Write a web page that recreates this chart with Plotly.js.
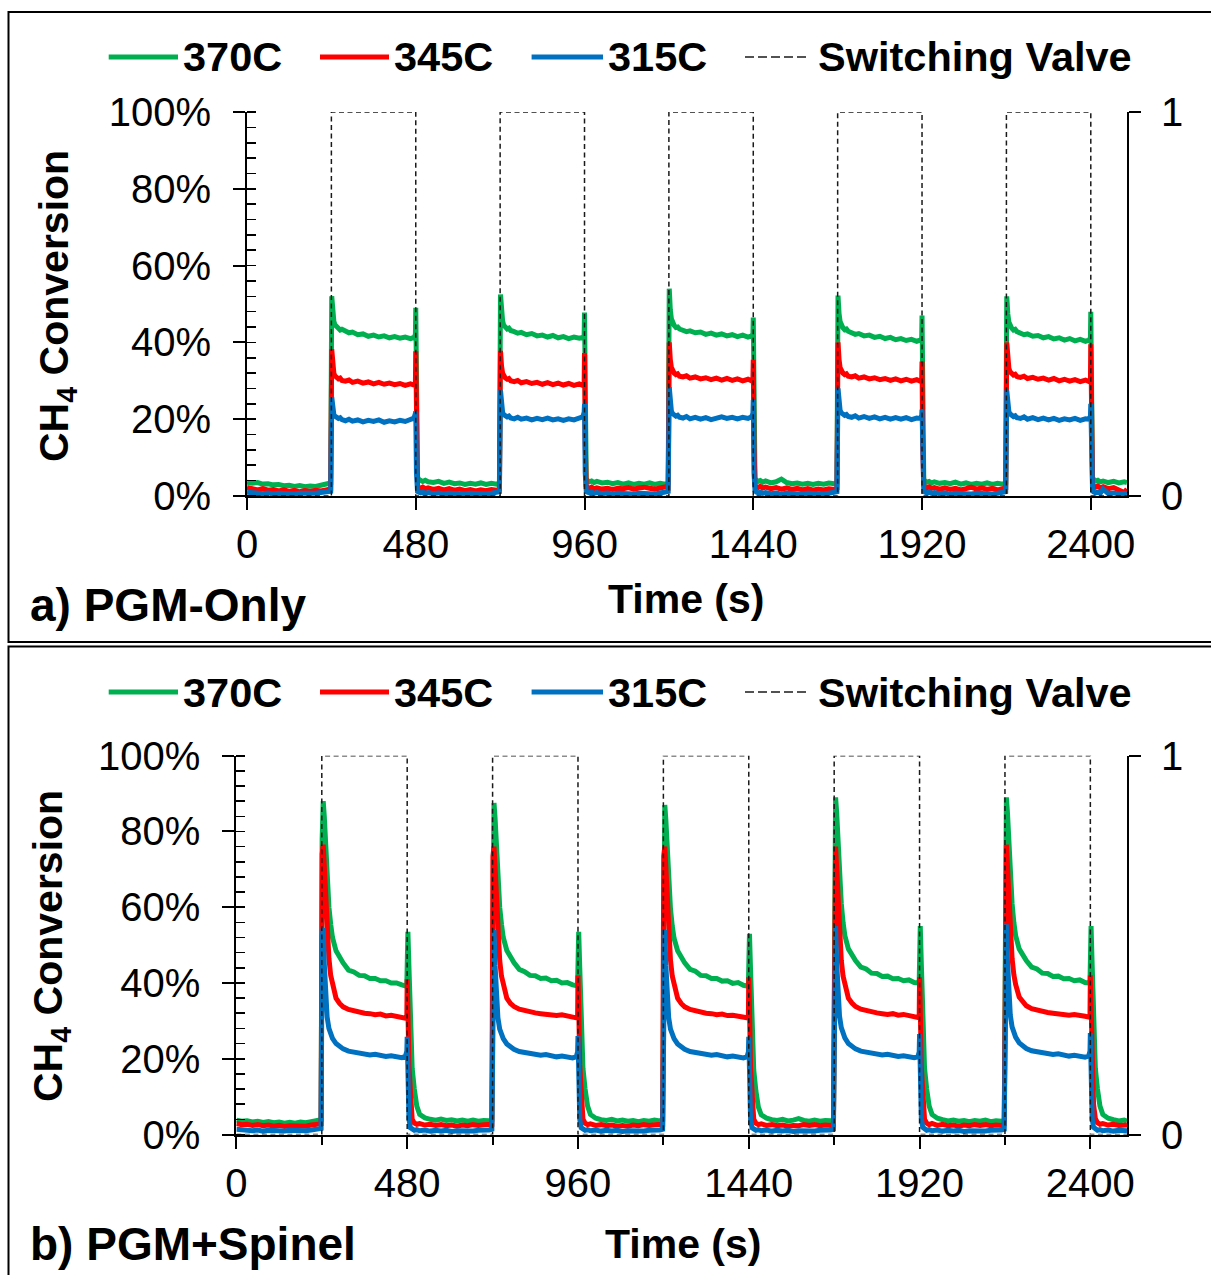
<!DOCTYPE html>
<html>
<head>
<meta charset="utf-8">
<script src="https://cdn.plot.ly/plotly-3.0.1.min.js"></script>
<style>html,body{margin:0;padding:0;background:#fff;}#chart{width:1211px;height:1275px;}</style>
</head>
<body>
<div id="chart"></div>
<script>
// ---------------- DATA ----------------
const seriesNames = ['370C', '345C', '315C', 'Switching Valve'];
const seriesColors = ['#00B050', '#FF0000', '#0070C0', '#000000'];

const xTickVals = [0, 480, 960, 1440, 1920, 2400];
const yTickVals = [0, 20, 40, 60, 80, 100];
const yTickText = ['0%', '20%', '40%', '60%', '80%', '100%'];
const y2TickVals = [0, 1];
const y2TickText = ['0', '1'];

// sample times (s), shared by all six conversion series
const time = [
  0,15,30,45,60,75,90,105,120,135,150,165,180,195,210,225,238,
  241,244,247,250,255,260,265,270,280,290,300,315,330,345,360,375,390,405,420,435,450,465,475,479,
  480,482,485,489,494,500,507,515,530,545,560,575,590,605,620,635,650,665,680,695,710,718,
  721,724,727,730,735,740,745,750,760,770,780,795,810,825,840,855,870,885,900,915,930,945,955,959,
  960,962,965,969,974,980,987,995,1010,1025,1040,1055,1070,1085,1100,1115,1130,1145,1160,1175,1190,1198,
  1201,1204,1207,1210,1215,1220,1225,1230,1240,1250,1260,1275,1290,1305,1320,1335,1350,1365,1380,1395,1410,1425,1435,1439,
  1440,1442,1445,1449,1454,1460,1467,1475,1490,1505,1520,1535,1550,1565,1580,1595,1610,1625,1640,1655,1670,1678,
  1681,1684,1687,1690,1695,1700,1705,1710,1720,1730,1740,1755,1770,1785,1800,1815,1830,1845,1860,1875,1890,1905,1915,1919,
  1920,1922,1925,1929,1934,1940,1947,1955,1970,1985,2000,2015,2030,2045,2060,2075,2090,2105,2120,2135,2150,2158,
  2161,2164,2167,2170,2175,2180,2185,2190,2200,2210,2220,2235,2250,2265,2280,2295,2310,2325,2340,2355,2370,2385,2395,2399,
  2400,2402,2405,2409,2414,2420,2427,2435,2450,2465,2480,2495,2503
];

// a) PGM-Only, CH4 conversion (%)
const a370 = [
  3.6,3.3,3.5,3.1,3.2,2.9,3.0,2.7,2.8,2.5,2.7,2.4,2.6,2.5,2.8,3.2,3.4,
  52.0,47.5,45.5,44.6,44.0,43.6,43.2,43.4,42.8,42.5,42.7,42.0,42.2,41.6,41.9,41.4,41.7,41.2,41.5,41.1,41.4,41.0,41.3,42.0,
  49.0,20.0,5.0,4.3,4.0,3.8,4.1,3.7,3.5,3.8,3.3,3.6,3.2,3.4,3.0,3.3,3.1,3.4,3.0,3.3,3.1,3.4,
  52.5,47.8,45.6,44.5,44.1,43.5,43.7,43.1,42.8,42.4,42.6,42.0,42.3,41.7,41.9,41.4,41.8,41.2,41.5,41.0,41.4,41.1,41.3,41.8,
  47.8,18.0,4.5,4.0,3.7,3.9,3.5,3.8,3.4,3.6,3.2,3.5,3.1,3.4,3.0,3.3,3.1,3.4,3.0,3.3,3.1,3.4,
  54.0,48.5,46.2,45.0,44.4,43.9,44.0,43.5,43.2,42.8,43.0,42.5,42.7,42.1,42.4,41.9,42.2,41.7,42.0,41.5,41.9,41.4,41.7,42.2,
  46.5,17.0,4.6,4.1,3.8,4.0,3.6,3.9,3.4,3.7,4.4,3.5,3.2,3.4,3.1,3.3,3.0,3.3,3.1,3.4,3.2,3.5,
  52.2,47.5,45.4,44.4,43.8,43.3,43.5,42.9,42.6,42.1,42.3,41.7,41.9,41.3,41.6,41.0,41.3,40.7,41.0,40.5,40.8,40.3,40.6,41.0,
  47.0,18.0,4.3,3.9,3.6,3.8,3.4,3.7,3.3,3.5,3.2,3.6,3.1,3.4,3.0,3.3,3.1,3.4,3.0,3.3,3.1,3.4,
  52.0,47.4,45.3,44.3,43.7,43.2,43.4,42.8,42.5,42.0,42.2,41.6,41.8,41.2,41.5,40.9,41.2,40.6,41.0,40.4,40.8,40.3,40.6,41.2,
  48.0,18.0,4.8,4.2,3.9,4.1,3.7,3.9,3.5,3.8,3.4,3.7,3.5
];
const a345 = [
  2.2,1.8,1.6,1.9,1.5,1.7,1.3,1.6,1.2,1.5,1.1,1.4,1.2,1.5,1.3,1.6,1.8,
  38.2,34.0,32.0,31.3,30.8,30.5,30.7,30.1,29.9,30.2,29.6,29.9,29.4,29.7,29.2,29.6,29.1,29.4,29.0,29.3,28.8,29.2,28.9,29.5,
  37.7,14.0,2.6,2.2,2.0,2.3,1.9,2.1,1.7,2.0,1.6,1.9,1.5,1.8,1.4,1.7,1.3,1.6,1.4,1.7,1.5,1.8,
  37.8,33.8,32.0,31.2,30.7,30.4,30.6,30.0,29.8,30.1,29.5,29.8,29.3,29.6,29.1,29.5,29.0,29.4,28.9,29.3,28.8,29.2,28.8,29.4,
  37.2,14.0,2.6,2.2,2.0,2.3,1.9,2.1,1.8,2.0,1.7,2.0,1.9,2.2,1.8,2.1,2.3,2.0,1.8,2.1,2.4,2.2,
  40.0,35.5,33.5,32.6,32.0,31.6,31.8,31.2,31.0,31.3,30.7,31.0,30.5,30.8,30.3,30.7,30.2,30.6,30.1,30.5,30.0,30.4,30.0,30.6,
  35.5,13.0,2.8,2.4,2.2,2.5,2.1,2.3,1.9,2.2,1.8,2.1,1.7,2.0,1.6,1.9,1.5,1.8,1.6,1.9,1.7,2.0,
  40.0,35.5,33.4,32.5,32.0,31.6,31.8,31.2,31.0,31.3,30.7,31.0,30.5,30.8,30.3,30.6,30.1,30.5,30.0,30.4,29.9,30.3,29.9,30.4,
  35.0,13.0,2.7,2.3,2.1,2.4,2.0,2.2,1.8,2.1,1.7,2.0,1.6,1.9,2.3,1.8,2.1,1.7,2.0,1.6,1.9,2.1,
  40.0,35.4,33.3,32.4,31.9,31.5,31.7,31.1,30.9,31.2,30.6,30.9,30.4,30.7,30.2,30.6,30.0,30.4,29.9,30.3,29.8,30.2,29.8,30.4,
  39.5,15.0,3.0,2.6,2.3,2.6,2.1,2.4,1.9,2.2,1.5,0.9,1.8
];
const a315 = [
  1.0,0.8,0.9,0.6,0.8,0.5,0.7,0.6,0.8,0.5,0.7,0.6,0.8,0.7,0.9,1.0,1.2,
  25.8,22.5,21.2,20.8,20.5,20.2,20.4,19.9,19.6,20.0,19.5,19.8,19.3,19.7,19.4,19.8,19.2,19.6,19.3,19.7,19.4,19.8,20.3,21.5,
  22.0,6.0,1.2,1.0,0.8,1.0,0.7,0.9,0.6,0.8,0.5,0.7,0.6,0.8,0.5,0.7,0.6,0.8,0.5,0.7,0.9,1.1,
  27.5,23.5,21.8,21.2,20.9,20.6,20.8,20.3,20.1,20.5,20.0,20.3,19.8,20.2,19.9,20.3,19.8,20.1,19.7,20.1,19.8,20.2,20.6,21.8,
  24.0,6.0,1.2,1.0,0.8,1.0,0.7,0.9,0.6,0.8,0.5,0.7,0.6,0.8,0.5,0.7,0.6,0.8,0.5,0.8,1.0,1.2,
  28.3,24.0,22.2,21.5,21.1,20.8,21.0,20.5,20.3,20.7,20.1,20.5,20.0,20.4,19.9,20.3,20.6,20.2,20.5,20.1,20.5,20.2,20.6,21.5,
  25.0,6.0,1.3,1.0,0.8,1.0,0.7,0.9,0.6,0.8,0.5,0.7,0.6,0.8,0.5,0.7,0.6,0.8,0.5,0.7,0.9,1.1,
  28.0,24.0,22.3,21.7,21.3,21.0,21.2,20.7,20.5,20.9,20.3,20.7,20.2,20.6,20.1,20.5,20.0,20.4,20.0,20.4,19.9,20.3,20.2,20.8,
  22.5,6.0,1.2,1.0,0.8,1.0,0.7,0.9,0.6,0.8,0.5,0.7,0.6,0.8,0.5,0.7,0.6,0.8,0.5,0.7,0.9,1.1,
  27.5,23.6,22.0,21.4,21.0,20.7,20.9,20.4,20.2,20.6,20.0,20.4,19.9,20.3,19.8,20.2,19.7,20.1,19.8,20.2,19.7,20.1,20.0,20.8,
  24.0,6.0,1.3,1.0,0.8,1.0,0.7,1.8,0.6,0.8,0.5,0.7,0.6
];

// b) PGM+Spinel, CH4 conversion (%)
const b370 = [
  3.8,3.5,3.6,3.3,3.5,3.2,3.4,3.1,3.3,3.0,3.2,3.0,3.3,3.1,3.4,3.6,3.9,
  78.0,88.0,84.0,78.0,68.0,60.0,55.5,52.0,48.5,46.6,45.3,43.4,42.9,42.0,41.9,41.2,41.2,40.6,40.6,40.0,40.0,39.5,39.2,39.6,
  50.0,53.5,44.0,27.0,17.5,12.0,7.5,5.3,4.4,4.0,3.8,4.1,3.7,3.9,3.6,3.8,3.5,3.8,3.5,3.7,3.6,3.9,
  78.0,87.5,83.5,77.5,67.5,60.0,55.5,52.0,48.6,46.7,45.4,43.6,43.0,42.0,41.9,41.2,41.3,40.6,40.7,40.0,40.1,39.5,39.3,39.7,
  50.0,53.5,44.0,27.0,17.5,12.0,7.5,5.3,4.3,3.9,3.7,4.0,3.6,3.8,3.5,3.7,3.4,3.7,3.5,3.8,3.6,3.9,
  77.0,87.0,83.0,77.0,67.0,59.5,55.0,51.8,48.5,46.6,45.3,43.6,43.1,42.0,41.9,41.2,41.2,40.5,40.6,39.9,40.1,39.4,39.2,39.6,
  49.5,53.0,43.5,26.5,17.0,11.5,7.2,5.2,4.3,3.9,3.7,4.0,3.6,3.8,4.2,3.7,3.5,3.8,3.5,3.7,3.6,3.9,
  79.0,89.0,85.0,78.5,68.5,61.0,56.0,52.5,49.0,47.2,45.9,44.2,43.7,42.6,42.5,41.7,41.8,41.1,41.2,40.6,40.8,40.1,40.0,40.5,
  51.5,55.0,45.0,27.5,17.5,12.0,7.5,5.3,4.3,3.9,3.6,3.8,3.5,3.7,3.4,3.7,3.5,3.8,3.4,3.6,3.5,3.8,
  79.0,89.0,85.0,78.5,68.5,61.0,56.0,52.5,49.0,47.2,45.9,44.2,43.7,42.6,42.5,41.7,41.8,41.1,41.2,40.6,40.8,40.1,40.0,40.4,
  51.5,55.0,45.0,27.5,17.5,12.0,7.5,5.3,4.3,3.9,3.6,3.8,3.5
];
const b345 = [
  2.9,2.6,2.7,2.4,2.6,2.3,2.5,2.2,2.4,2.1,2.3,2.2,2.4,2.2,2.5,2.6,2.8,
  74.0,76.5,71.0,64.0,54.0,46.5,42.0,39.5,36.0,34.6,33.7,33.0,32.6,32.4,32.0,31.9,31.6,31.8,31.3,31.5,31.1,31.0,30.7,31.2,
  41.0,33.0,18.0,8.0,4.0,3.0,2.7,2.9,2.5,2.7,2.4,2.6,2.3,2.5,2.2,2.5,2.3,2.6,2.4,2.6,2.5,2.7,
  73.5,76.0,70.5,63.5,53.5,46.0,41.8,39.3,36.0,34.6,33.8,33.1,32.7,32.4,32.1,31.9,31.7,31.8,31.4,31.6,31.2,31.0,30.8,31.3,
  42.0,34.0,18.5,8.0,4.0,3.0,2.6,2.8,2.4,2.6,2.3,2.5,2.2,2.4,2.2,2.5,2.3,2.6,2.4,2.6,2.5,2.7,
  73.5,76.0,70.5,63.5,53.5,46.0,41.8,39.3,36.0,34.6,33.7,33.0,32.6,32.3,32.0,31.9,31.6,31.8,31.4,31.5,31.2,31.0,30.8,31.2,
  41.5,33.5,18.0,8.0,4.0,3.0,2.6,2.8,2.4,2.6,2.3,2.5,2.2,2.4,2.3,2.6,2.4,2.6,2.3,2.5,2.4,2.7,
  73.5,76.0,70.5,63.5,53.5,46.0,41.8,39.3,36.0,34.7,33.8,33.1,32.7,32.4,32.1,31.9,31.7,31.9,31.5,31.7,31.3,31.1,30.9,31.4,
  41.5,33.5,18.0,8.0,4.0,3.0,2.6,2.9,2.4,2.7,2.3,2.5,2.2,2.5,2.3,2.6,2.4,2.6,2.3,2.5,2.4,2.7,
  74.0,76.5,71.0,64.0,54.0,46.5,42.2,39.6,36.3,34.9,34.0,33.2,32.8,32.5,32.2,32.0,31.8,31.9,31.5,31.7,31.3,31.2,31.0,31.5,
  42.0,34.0,18.5,8.0,4.2,3.1,2.7,2.9,2.5,2.7,2.4,2.6,2.5
];
const b315 = [
  1.4,1.2,1.3,1.0,1.2,0.9,1.1,1.0,1.2,0.9,1.1,1.0,1.2,1.0,1.2,1.4,1.6,
  52.0,54.5,45.0,37.5,31.0,28.0,26.5,25.4,24.0,23.1,22.6,22.0,21.7,21.4,21.2,21.0,21.2,20.8,20.6,20.8,20.4,20.3,20.6,22.0,
  25.8,14.0,4.0,1.8,1.3,1.1,1.3,1.0,1.2,0.9,1.1,0.9,1.1,0.8,1.0,0.9,1.1,0.9,1.1,1.0,1.2,1.4,
  51.5,54.0,44.5,37.0,30.8,27.8,26.3,25.3,23.9,23.0,22.5,21.9,21.6,21.3,21.1,20.9,21.1,20.7,20.5,20.7,20.3,20.2,20.5,21.8,
  26.0,14.0,4.0,1.8,1.3,1.1,1.3,1.0,1.2,0.9,1.1,0.9,1.1,0.8,1.0,0.9,1.1,0.9,1.1,1.0,1.2,1.4,
  51.5,54.0,44.5,37.0,30.8,27.8,26.3,25.3,23.9,23.0,22.5,21.9,21.6,21.3,21.1,20.9,21.1,20.7,20.5,20.7,20.3,20.2,20.5,21.8,
  25.8,14.0,4.0,1.8,1.3,1.1,1.3,1.0,1.2,0.9,1.1,0.9,1.1,0.8,1.0,0.9,1.1,0.9,1.1,1.0,1.2,1.4,
  52.5,55.0,45.5,37.8,31.3,28.2,26.6,25.5,24.0,23.1,22.6,22.0,21.7,21.4,21.2,21.0,21.2,20.8,20.6,20.8,20.4,20.3,20.5,21.8,
  26.5,14.5,4.2,1.9,1.3,1.1,1.3,1.0,1.2,0.9,1.1,0.9,1.1,0.8,1.0,0.9,1.1,0.9,1.1,1.0,1.2,1.4,
  53.0,55.5,46.0,38.0,31.5,28.4,26.8,25.7,24.2,23.3,22.7,22.1,21.8,21.5,21.3,21.1,21.3,20.9,20.7,20.9,20.5,20.4,20.7,22.0,
  26.8,14.5,4.2,1.9,1.3,1.1,1.3,1.0,1.2,0.9,1.1,0.9,1.0
];

// switching valve state (0 = closed, 1 = open)
const valveTime = [0,240,240,480,480,720,720,960,960,1200,1200,1440,1440,1680,1680,1920,1920,2160,2160,2400,2400,2503];
const valveState = [0,0,1,1,0,0,1,1,0,0,1,1,0,0,1,1,0,0,1,1,0,0];

[a370,a345,a315,b370,b345,b315].forEach((s,i)=>{
  if (s.length !== time.length) throw new Error('series '+i+' length '+s.length+' != '+time.length);
});

// ---------------- LAYOUT HELPERS ----------------
const W = 1211, H = 1275;
const px = x => x / W;
const py = y => 1 - y / H;
const FONT = 'Liberation Sans, Arial, Helvetica, sans-serif';
const VALVE_LINE = {color:'#1a1a1a', width:1.5, dash:'5px,3.5px'};
const VALVE_LEGEND_LINE = {color:'#1a1a1a', width:1.5, dash:'9px,4px'};

const panels = [
  { x:'x', y:'y', y2:'y2', yIn:'y5', left:247, right:1127, top:112, bottom:496,
    legendY:57, label:'a) PGM-Only', labelY:605, timeX:686, timeY:599, titleX:57, titleY:306,
    minorX:false, sets:[a370,a345,a315] },
  { x:'x2', y:'y3', y2:'y4', yIn:'y6', left:236.4, right:1127, top:755.7, bottom:1134.5,
    legendY:692, label:'b) PGM+Spinel', labelY:1244, timeX:683, timeY:1244, titleX:51, titleY:946,
    minorX:true, sets:[b370,b345,b315] }
];

const traces = [];
const layout = {
  width: W, height: H,
  margin: {l:0, r:0, t:0, b:0, pad:0},
  paper_bgcolor:'#fff', plot_bgcolor:'rgba(0,0,0,0)',
  showlegend:false,
  font:{family:FONT, color:'#000'},
  shapes: [], annotations: []
};

function layoutKey(ref){
  return (ref[0]==='x'?'xaxis':'yaxis') + ref.slice(1);
}

panels.forEach(p => {
  p.sets.forEach((vals, i) => {
    traces.push({
      type:'scatter', mode:'lines', name:seriesNames[i],
      x: time, y: vals, xaxis:p.x, yaxis:p.y,
      line:{color:seriesColors[i], width:5}, hoverinfo:'skip'
    });
  });
  traces.push({
    type:'scatter', mode:'lines', name:seriesNames[3],
    x: valveTime, y: valveState, xaxis:p.x, yaxis:p.y2,
    line:VALVE_LINE, hoverinfo:'skip'
  });

  const tickFont = {family:FONT, size:40, color:'#000'};
  layout[layoutKey(p.x)] = {
    domain:[px(p.left), px(p.right)], anchor:p.y,
    range:[0, 2503], tickmode:'array', tickvals:xTickVals, ticktext:xTickVals.map(String),
    ticks:'outside', ticklen:12, tickwidth:2, tickcolor:'#000',
    showline:true, linewidth:2, linecolor:'#000', showgrid:false, zeroline:false,
    tickfont:tickFont, ticklabelstandoff:0, fixedrange:true,
    minor: p.minorX ? {tickmode:'linear', tick0:0, dtick:240, ticks:'outside', ticklen:8, tickwidth:2, tickcolor:'#000', showgrid:false} : {ticks:''}
  };
  layout[layoutKey(p.y)] = {
    domain:[py(p.bottom), py(p.top)], anchor:p.x,
    range:[0, 100], tickmode:'array', tickvals:yTickVals, ticktext:yTickText,
    ticks:'outside', ticklen:12, tickwidth:2, tickcolor:'#000',
    showline:true, linewidth:2, linecolor:'#000', showgrid:false, zeroline:false,
    tickfont:tickFont, ticklabelstandoff:14, fixedrange:true,
    minor:{tickmode:'linear', tick0:0, dtick:4, ticks:'inside', ticklen:9, tickwidth:1.6, tickcolor:'#000', showgrid:false}
  };
  layout[layoutKey(p.yIn)] = {
    overlaying:p.y, anchor:p.x, side:'left',
    range:[0, 100], tickmode:'array', tickvals:yTickVals,
    ticks:'inside', ticklen:12, tickwidth:2, tickcolor:'#000',
    showticklabels:false, showline:false, showgrid:false, zeroline:false, fixedrange:true
  };
  layout[layoutKey(p.y2)] = {
    overlaying:p.y, anchor:p.x, side:'right',
    range:[0, 1], tickmode:'array', tickvals:y2TickVals, ticktext:y2TickText,
    ticks:'outside', ticklen:12, tickwidth:2, tickcolor:'#000',
    showline:true, linewidth:2, linecolor:'#000', showgrid:false, zeroline:false,
    tickfont:tickFont, ticklabelstandoff:12, fixedrange:true
  };

  // legend (line samples + labels)
  const legendLines = [[108.7,178],[320,389],[531.6,603],[745,810]];
  const legendText = [182,393,607,817];
  legendLines.forEach((seg, i) => {
    layout.shapes.push({
      type:'line', xref:'paper', yref:'paper',
      x0:px(seg[0]), x1:px(seg[1]), y0:py(p.legendY), y1:py(p.legendY),
      line: i < 3 ? {color:seriesColors[i], width:5} : VALVE_LEGEND_LINE
    });
    layout.annotations.push({
      xref:'paper', yref:'paper', x:px(legendText[i]), y:py(p.legendY),
      xanchor:'left', yanchor:'middle', showarrow:false, borderpad:0,
      text:'<b>'+seriesNames[i]+'</b>', font:{family:FONT, size:41.5, color:'#000'}
    });
  });

  layout.annotations.push({
    xref:'paper', yref:'paper', x:px(p.timeX), y:py(p.timeY), xanchor:'center', yanchor:'middle',
    showarrow:false, text:'<b>Time (s)</b>', font:{family:FONT, size:41, color:'#000'}
  });
  layout.annotations.push({
    xref:'paper', yref:'paper', x:px(p.titleX), y:py(p.titleY), xanchor:'center', yanchor:'middle',
    showarrow:false, textangle:-90, text:'<b>CH<sub>4</sub> Conversion</b>', font:{family:FONT, size:41, color:'#000'}
  });
  layout.annotations.push({
    xref:'paper', yref:'paper', x:px(28), y:py(p.labelY), xanchor:'left', yanchor:'middle',
    showarrow:false, text:'<b>'+p.label+'</b>', font:{family:FONT, size:46, color:'#000'}
  });
});

// panel borders
layout.shapes.push({type:'rect', xref:'paper', yref:'paper', x0:px(8.5), x1:px(1216), y0:py(12), y1:py(642), line:{color:'#000', width:2}, fillcolor:'rgba(0,0,0,0)', layer:'below'});
layout.shapes.push({type:'rect', xref:'paper', yref:'paper', x0:px(8.5), x1:px(1216), y0:py(646.5), y1:py(1282), line:{color:'#000', width:2}, fillcolor:'rgba(0,0,0,0)', layer:'below'});

Plotly.newPlot('chart', traces, layout, {staticPlot:true, displayModeBar:false});
</script>
</body>
</html>
